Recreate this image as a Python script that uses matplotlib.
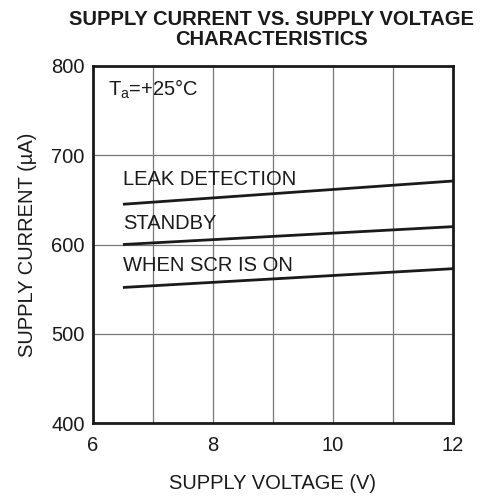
import matplotlib.pyplot as plt

plt.rcParams['font.family'] = ['Liberation Sans', 'DejaVu Sans']

voltage = [6.5, 12.0]
leak_detection = [645, 671]
standby = [600, 620]
scr_on = [552, 573]

curves = [
    ("LEAK DETECTION", leak_detection, 673),
    ("STANDBY", standby, 623),
    ("WHEN SCR IS ON", scr_on, 576),
]

fig = plt.figure(figsize=(4.84, 4.97), dpi=100)
ax = fig.add_axes([0.192, 0.148, 0.744, 0.72])

for name, vals, ytext in curves:
    ax.plot(voltage, vals, color='#1a1a1a', lw=2.0, solid_capstyle='butt')
    ax.text(6.5, ytext, name, fontsize=14.5, color='#1a1a1a', va='center', ha='left')

ax.text(6.25, 773, "T$_\\mathregular{a}$=+25°C", fontsize=14.5, color='#1a1a1a', va='center', ha='left')

ax.set_xlim(6, 12)
ax.set_ylim(400, 800)
ax.set_xticks([6, 8, 10, 12])
ax.set_xticks(range(6, 13), minor=True)
ax.set_yticks([400, 500, 600, 700, 800])
ax.grid(True, which='both', color='#777777', lw=0.9)
ax.tick_params(which='both', length=0, labelsize=14.5, colors='#1a1a1a', pad=6)
ax.tick_params(axis='x', pad=9)
for s in ax.spines.values():
    s.set_linewidth(2.0)
    s.set_color('#1a1a1a')

ax.set_xlabel("SUPPLY VOLTAGE (V)", fontsize=14.5, color='#1a1a1a', labelpad=14)
ax.set_ylabel("SUPPLY CURRENT (µA)", fontsize=14.5, color='#1a1a1a', labelpad=10)
fig.text(0.56, 0.94, "SUPPLY CURRENT VS. SUPPLY VOLTAGE\nCHARACTERISTICS", fontsize=14.5,
         fontweight='bold', color='#1a1a1a', ha='center', va='center', linespacing=1.05)

fig.savefig('out.png', dpi=100)
